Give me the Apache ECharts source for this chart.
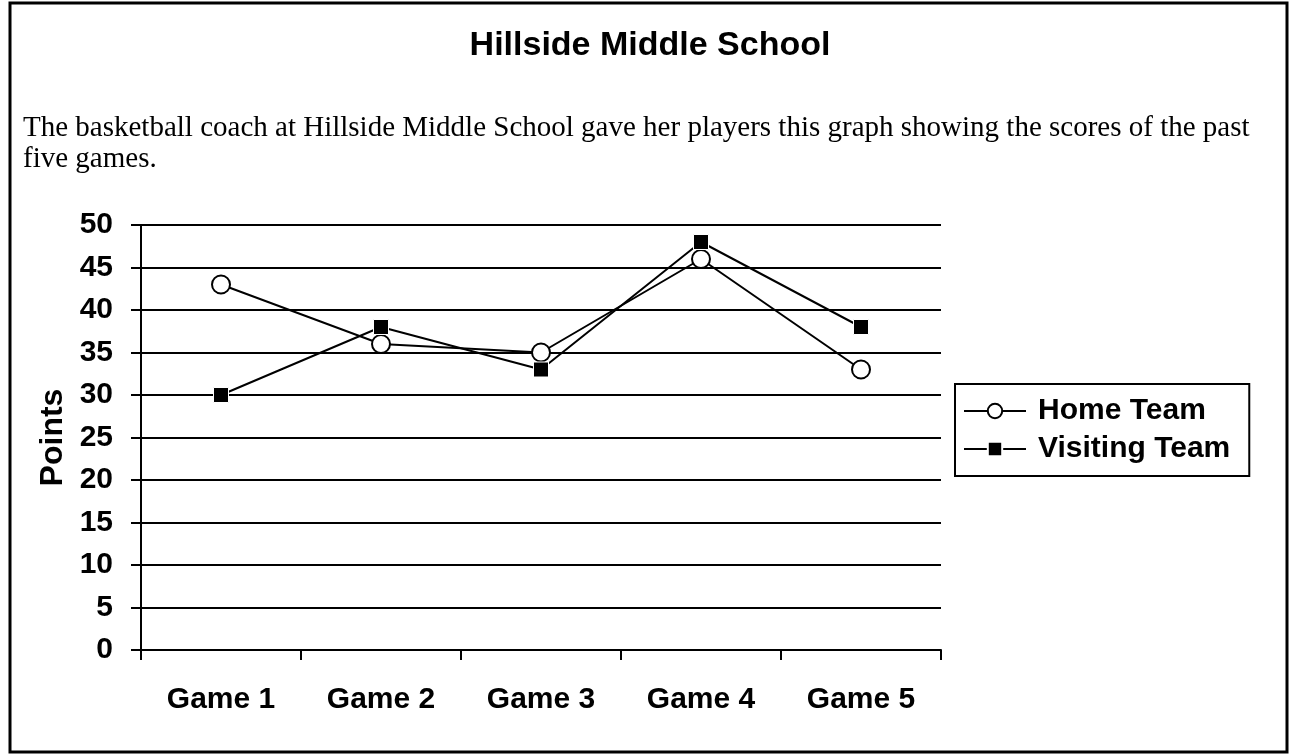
<!DOCTYPE html>
<html>
<head>
<meta charset="utf-8">
<script src="https://cdn.jsdelivr.net/npm/echarts@6/dist/echarts.min.js"></script>
<style>
html,body{margin:0;padding:0;background:#fff;}
#chart{width:1291px;height:755px;}
</style>
</head>
<body>
<div id="chart"></div>
<script>
var categories = ['Game 1', 'Game 2', 'Game 3', 'Game 4', 'Game 5'];
var homeTeam = [43, 36, 35, 46, 33];
var visitingTeam = [30, 38, 33, 48, 38];
var seriesNames = ['Home Team', 'Visiting Team'];
var titleText = 'Hillside Middle School';
var introText = 'The basketball coach at Hillside Middle School gave her players this graph showing the scores of the past\nfive games.';

var chart = echarts.init(document.getElementById('chart'));
var sans = 'Liberation Sans, Arial, sans-serif';
var serif = 'Liberation Serif, Times New Roman, serif';
chart.setOption({
  animation: false,
  backgroundColor: '#fff',
  graphic: [{
    type: 'rect', shape: {x: 10, y: 3, width: 1277, height: 749},
    style: {fill: 'none', stroke: '#000', lineWidth: 3}, silent: true
  }, {
    type: 'text', x: 650, y: 46, silent: true,
    style: {text: titleText, font: 'bold 34px ' + sans, fill: '#000', textAlign: 'center', textVerticalAlign: 'middle'}
  }, {
    type: 'text', x: 23, y: 113, silent: true,
    style: {text: introText, font: '29px ' + serif, fill: '#000', lineHeight: 31, textAlign: 'left', textVerticalAlign: 'top'}
  }],
  legend: {
    orient: 'vertical', left: 955, top: 384,
    data: seriesNames,
    borderColor: '#000', borderWidth: 2, borderRadius: 0,
    padding: [12, 19, 12, 8], itemGap: 8,
    itemWidth: 62, itemHeight: 18,
    textStyle: {fontFamily: sans, fontSize: 30, fontWeight: 'bold', color: '#000', lineHeight: 30, padding: [0, 0, 0, 7]}
  },
  grid: {left: 141, right: 350, top: 225, bottom: 105, containLabel: false},
  xAxis: {
    type: 'category', data: categories, boundaryGap: true,
    axisLine: {lineStyle: {color: '#000', width: 2}},
    axisTick: {show: true, alignWithLabel: false, interval: 0, length: 10, lineStyle: {color: '#000', width: 2}},
    axisLabel: {fontFamily: sans, fontSize: 30, fontWeight: 'bold', color: '#000', margin: 35, interval: 0}
  },
  yAxis: {
    type: 'value', min: 0, max: 50, interval: 5,
    name: 'Points', nameLocation: 'middle', nameGap: 72, nameRotate: 90,
    nameTextStyle: {fontFamily: sans, fontSize: 32, fontWeight: 'bold', color: '#000'},
    axisLine: {show: true, lineStyle: {color: '#000', width: 2}},
    axisTick: {show: true, length: 10, lineStyle: {color: '#000', width: 2}},
    splitLine: {show: true, lineStyle: {color: '#000', width: 2}},
    axisLabel: {fontFamily: sans, fontSize: 30, fontWeight: 'bold', color: '#000', margin: 28}
  },
  series: [{
    name: seriesNames[0], type: 'line', data: homeTeam,
    symbol: 'circle', symbolSize: 18,
    lineStyle: {color: '#000', width: 2},
    itemStyle: {color: '#fff', borderColor: '#000', borderWidth: 2},
    z: 3
  }, {
    name: seriesNames[1], type: 'line', data: visitingTeam,
    symbol: 'rect', symbolSize: 15,
    lineStyle: {color: '#000', width: 2},
    itemStyle: {color: '#000', borderColor: '#fff', borderWidth: 1},
    z: 4
  }]
});
</script>
</body>
</html>
